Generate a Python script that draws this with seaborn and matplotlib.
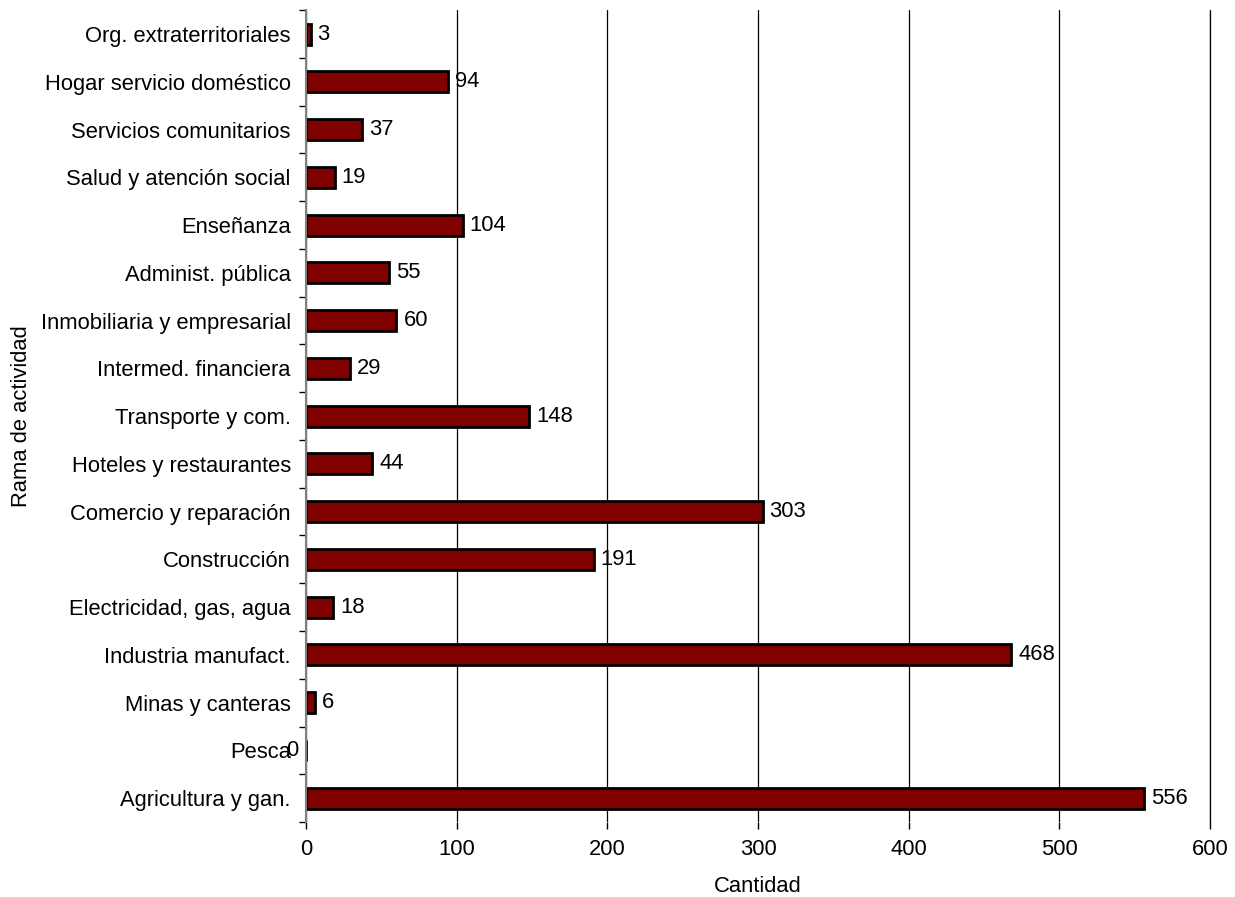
import pandas as pd
import matplotlib
matplotlib.use('Agg')
import matplotlib.pyplot as plt
import seaborn as sns
from matplotlib.ticker import FixedLocator

# 데이터
ramas = ['Org. extraterritoriales', 'Hogar servicio doméstico', 'Servicios comunitarios',
         'Salud y atención social', 'Enseñanza', 'Administ. pública',
         'Inmobiliaria y empresarial', 'Intermed. financiera', 'Transporte y com.',
         'Hoteles y restaurantes', 'Comercio y reparación', 'Construcción',
         'Electricidad, gas, agua', 'Industria manufact.', 'Minas y canteras',
         'Pesca', 'Agricultura y gan.']
cantidad = [3, 94, 37, 19, 104, 55, 60, 29, 148, 44, 303, 191, 18, 468, 6, 0, 556]

df = pd.DataFrame({'rama': ramas, 'cantidad': cantidad})

sns.set_style('white')
plt.rcParams['font.family'] = ['Liberation Sans', 'DejaVu Sans']
plt.rcParams['text.color'] = 'black'
plt.rcParams['axes.labelcolor'] = 'black'
plt.rcParams['xtick.color'] = 'black'
plt.rcParams['ytick.color'] = 'black'

fs = 15.8

fig = plt.figure(figsize=(12.35, 8.97), dpi=100)
ax = fig.add_axes([0.2478, 0.0836, 0.732, 0.905])

sns.barplot(data=df, x='cantidad', y='rama', orient='h', color='#800000',
            edgecolor='black', linewidth=2, width=0.44, saturation=1, ax=ax)

# 값 라벨 (0 은 원본처럼 축 왼쪽에 겹쳐 표시)
for i, v in enumerate(cantidad):
    if v == 0:
        ax.annotate(str(v), (0, i), xytext=(-10, 0), textcoords='offset points',
                    va='center', ha='center', fontsize=fs)
    else:
        ax.annotate(str(v), (v, i), xytext=(5, 0), textcoords='offset points',
                    va='center', ha='left', fontsize=fs)

ax.set_xlim(0, 600)
ax.set_ylim(len(ramas) - 0.5, -0.5)
ax.set_xticks(range(0, 601, 100))
ax.xaxis.grid(True, color='black', linewidth=0.9)
ax.axvline(600, color='black', linewidth=0.9, clip_on=False, zorder=0)
ax.set_axisbelow(True)

# y 눈금은 범주 경계에
ax.yaxis.set_minor_locator(FixedLocator([i - 0.5 for i in range(len(ramas) + 1)]))
ax.tick_params(axis='y', which='major', left=False, length=0, labelsize=fs, pad=11)
ax.tick_params(axis='y', which='minor', left=True, length=5, direction='out', width=1)
ax.tick_params(axis='x', which='major', bottom=True, length=5, direction='out', width=1,
               labelsize=fs, pad=7)

for s in ['top', 'right', 'bottom']:
    ax.spines[s].set_visible(False)
ax.spines['left'].set_color('#808080')
ax.spines['left'].set_linewidth(1.5)

ax.set_xlabel('Cantidad', fontsize=fs, labelpad=12)
ax.set_ylabel('Rama de actividad', fontsize=fs, labelpad=6)

fig.savefig('out.png', dpi=100)
